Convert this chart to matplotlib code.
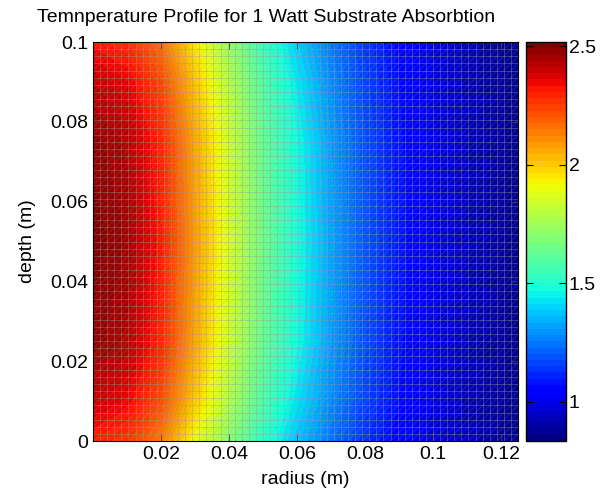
import numpy as np
import matplotlib
matplotlib.use('Agg')
import matplotlib.pyplot as plt
from matplotlib.collections import LineCollection
from matplotlib.ticker import FormatStrFormatter

plt.rcParams['font.family'] = ['Liberation Sans', 'DejaVu Sans']

# sample points
radius = [0, 0.01, 0.02, 0.03, 0.04, 0.05, 0.06, 0.07, 0.08, 0.09, 0.10, 0.11, 0.125]
depth = [0, 0.01, 0.025, 0.05, 0.075, 0.09, 0.1]

# temperature (rows = depth, cols = radius)
temp_d000 = [2.30, 2.26, 2.14, 1.90, 1.70, 1.52, 1.37, 1.24, 1.13, 1.05, 0.98, 0.93, 0.86]
temp_d010 = [2.40, 2.35, 2.22, 2.00, 1.78, 1.58, 1.42, 1.28, 1.16, 1.07, 0.99, 0.93, 0.87]
temp_d025 = [2.48, 2.43, 2.29, 2.06, 1.84, 1.63, 1.47, 1.31, 1.18, 1.08, 1.00, 0.94, 0.87]
temp_d050 = [2.51, 2.46, 2.31, 2.08, 1.86, 1.65, 1.48, 1.32, 1.19, 1.09, 1.00, 0.94, 0.87]
temp_d075 = [2.48, 2.43, 2.29, 2.06, 1.84, 1.63, 1.47, 1.31, 1.18, 1.08, 1.00, 0.94, 0.87]
temp_d090 = [2.41, 2.36, 2.23, 2.01, 1.79, 1.59, 1.43, 1.28, 1.16, 1.07, 0.99, 0.93, 0.87]
temp_d100 = [2.32, 2.28, 2.16, 1.94, 1.73, 1.54, 1.39, 1.25, 1.14, 1.06, 0.99, 0.93, 0.86]

clim = (0.835, 2.517)
xticks = [0.02, 0.04, 0.06, 0.08, 0.1, 0.12]
yticks = [0, 0.02, 0.04, 0.06, 0.08, 0.1]
cticks = [1, 1.5, 2, 2.5]

T = np.array([temp_d000, temp_d010, temp_d025, temp_d050,
              temp_d075, temp_d090, temp_d100])
R, D = np.meshgrid(radius, depth)

jet = plt.get_cmap('jet', 64)
levels = np.linspace(clim[0], clim[1], 65)

fig = plt.figure(figsize=(6.02, 4.95), dpi=100)
ax = fig.add_axes([0.1545, 0.109, 0.706, 0.806])
cax = fig.add_axes([0.8738, 0.109, 0.0664, 0.806])

cs = ax.contourf(R, D, np.clip(T, clim[0] + 1e-6, clim[1] - 1e-6),
                 levels=levels, cmap=jet, vmin=clim[0], vmax=clim[1])

# faceted mesh look (surf edges)
nx, ny = 60, 56
xs = np.linspace(0, radius[-1], nx + 1)
ys = np.linspace(0, depth[-1], ny + 1)
ax.vlines(xs, 0, depth[-1], colors='0.6', alpha=0.45, linewidth=0.6)
ax.hlines(ys, 0, radius[-1], colors='0.6', alpha=0.45, linewidth=0.6)
segs = [[(xs[i], ys[j]), (xs[i + 1], ys[j + 1])] for i in range(nx) for j in range(ny)]
ax.add_collection(LineCollection(segs, colors='0.65', alpha=0.25, linewidth=0.5))

ax.set_xlim(0, radius[-1])
ax.set_ylim(0, depth[-1])
ax.set_xticks(xticks)
ax.set_yticks(yticks)
ax.xaxis.set_major_formatter(FormatStrFormatter('%g'))
ax.yaxis.set_major_formatter(FormatStrFormatter('%g'))
ax.tick_params(direction='in', top=True, right=True, length=5, width=0.6,
               labelsize=14, color='0.25')
ax.set_xlabel('radius (m)', fontsize=14, labelpad=6)
ax.set_ylabel('depth (m)', fontsize=14, labelpad=10)
fig.text(266 / 602, 1 - 18 / 495, 'Temnperature Profile for 1 Watt Substrate Absorbtion',
         fontsize=14, ha='center', va='center')
for s in ax.spines.values():
    s.set_linewidth(0.8)

sm = plt.cm.ScalarMappable(norm=plt.Normalize(*clim), cmap=jet)
cb = fig.colorbar(sm, cax=cax, ticks=cticks)
cb.ax.yaxis.set_major_formatter(FormatStrFormatter('%g'))
cb.ax.tick_params(direction='in', left=True, right=True, length=5, width=0.8,
                  labelsize=14, pad=2)
cb.outline.set_linewidth(1.0)

fig.savefig('out.png', dpi=100)
